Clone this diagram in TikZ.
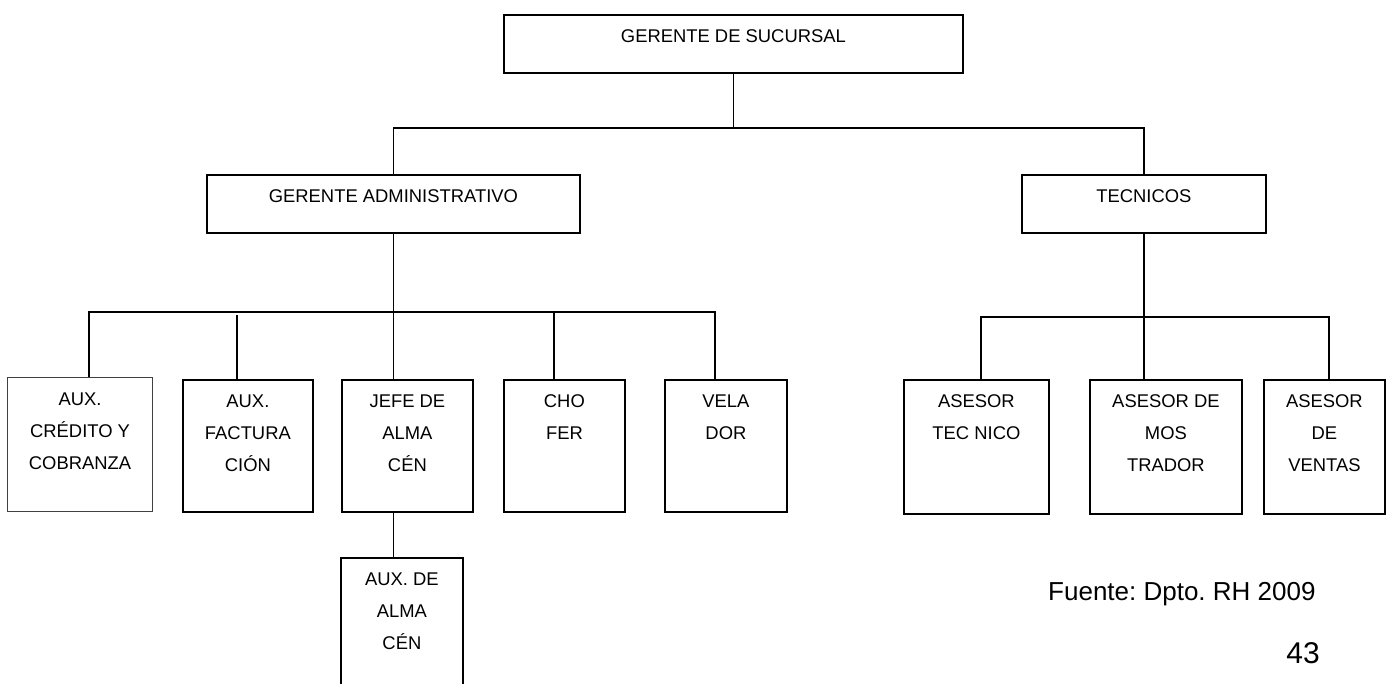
\documentclass[tikz,border=0pt]{standalone}
\usepackage{fontspec}
\setmainfont{Liberation Sans}
\frenchspacing
\newcommand{\orgbox}[3]{\parbox[t][#2][t]{#1}{\centering\rule{0pt}{28pt}#3}}
\begin{document}
\frenchspacing
\begin{tikzpicture}[x=1pt,y=-1pt,
  box/.style={draw, line width=1.8pt, inner sep=0pt, anchor=north west,
    font=\fontsize{18.4}{32}\selectfont},
  thinbox/.style={box, line width=1.1pt, draw=black!75},
  conn/.style={line width=1.8pt}]
\clip (0,0) rectangle (1388,684);
\fill[white] (0,0) rectangle (1388,684);
% boxes
\node[box] (top) at (503,14) {\orgbox{459pt}{58pt}{GERENTE DE SUCURSAL}};
\node[box] (GA) at (206,174) {\orgbox{373pt}{58pt}{GERENTE ADMINISTRATIVO}};
\node[box] (TEC) at (1021,174) {\orgbox{244pt}{58pt}{TECNICOS}};
\node[thinbox] (AUXC) at (7,377) {\orgbox{145pt}{134pt}{AUX.\\CRÉDITO Y\\COBRANZA}};
\node[box] (FACT) at (182,379) {\orgbox{130pt}{132pt}{AUX.\\FACTURA\\CIÓN}};
\node[box] (JEFE) at (341,379) {\orgbox{131pt}{132pt}{JEFE DE\\ALMA\\CÉN}};
\node[box] (CHO) at (503,379) {\orgbox{121pt}{132pt}{CHO\\FER}};
\node[box] (VELA) at (664,379) {\orgbox{122pt}{132pt}{VELA\\DOR}};
\node[box] (ALMA) at (340,557) {\orgbox{122pt}{145pt}{AUX. DE\\ALMA\\CÉN}};
\node[box] (ASTEC) at (903,379) {\orgbox{145pt}{134pt}{ASESOR\\TEC NICO}};
\node[box] (MOST) at (1089,379) {\orgbox{152pt}{134pt}{ASESOR DE\\MOS\\TRADOR}};
\node[box] (VENT) at (1263,379) {\orgbox{121pt}{134pt}{ASESOR\\DE\\VENTAS}};
% texts
\node[anchor=base west, inner sep=0pt, font=\fontsize{26}{30}\selectfont] (src) at (1048,600) {Fuente: Dpto. RH 2009};
\node[anchor=base east, inner sep=0pt, font=\fontsize{30}{34}\selectfont] (pg) at (1320,663) {43};
% connectors level 1
\path (top.south) ++(0,54) coordinate (bus1);
\draw[conn] (top.south) -- (bus1);
\draw[conn] (GA.north) |- (bus1) -| (TEC.north);
% connectors level 2 left
\coordinate (b2L) at (89,312);
\coordinate (b2R) at (715,312);
\coordinate (f1) at (237,315);
\coordinate (c1) at (554,312);
\draw[conn] (AUXC.north -| b2L) |- (b2R) -- (b2R |- VELA.north);
\draw[conn] (GA.south) -- (GA.south |- JEFE.north);
\draw[conn] (f1) -- (f1 |- FACT.north);
\draw[conn] (c1) -- (c1 |- CHO.north);
\draw[conn] (GA.south |- JEFE.south) -- (GA.south |- ALMA.north);
% connectors level 2 right
\coordinate (b3L) at (981,317);
\coordinate (b3R) at (1329,317);
\draw[conn] (TEC.south) -- (TEC.south |- MOST.north);
\draw[conn] (ASTEC.north -| b3L) |- (b3R) -- (b3R |- VENT.north);
\end{tikzpicture}
\end{document}
